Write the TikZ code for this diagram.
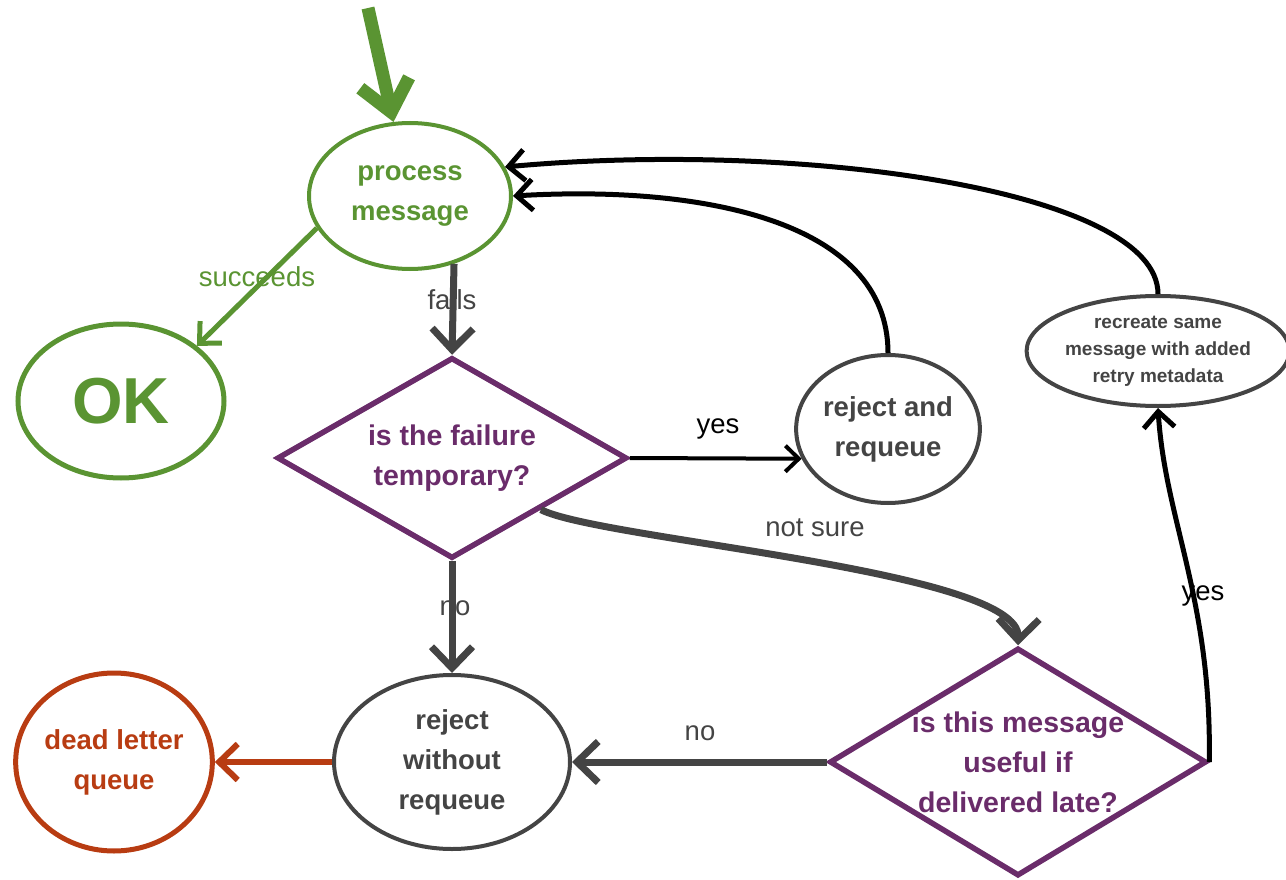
\documentclass[tikz,border=0pt]{standalone}
\usepackage{fontspec}
\setmainfont{Liberation Sans}
\usetikzlibrary{shapes.geometric,arrows.meta,calc}
\definecolor{cgreen}{HTML}{5A9432}
\definecolor{cpurple}{HTML}{6A2C6A}
\definecolor{cgray}{HTML}{444444}
\definecolor{cred}{HTML}{B83C12}
\begin{document}
\begin{tikzpicture}[x=1pt,y=-1pt,
  ell/.style={ellipse, draw=cgray, text=cgray, line width=4pt, inner sep=0pt, align=center,
              font=\bfseries\fontsize{27.5}{40}\selectfont},
  dia/.style={diamond, draw=cpurple, text=cpurple, line width=5.5pt, inner sep=-8pt, align=center,
              font=\bfseries\fontsize{28.5}{40}\selectfont},
  arr/.style={-{Straight Barb[length=3pt 2.6,width=6pt 5]}},
  lbl/.style={text=cgray, font=\fontsize{27.5}{30}\selectfont, inner sep=0pt}
]
\useasboundingbox (0,0) rectangle (1286,880);

% nodes
\node[ell, draw=cgreen, text=cgreen, minimum width=202pt, minimum height=146pt] (pm) at (410,196) {process\\message};
\node[ell, draw=cgreen, text=cgreen, line width=5pt, minimum width=206pt, minimum height=154pt,
      font=\bfseries\fontsize{65}{70}\selectfont] (ok) at (121,401) {OK};
\node[dia, aspect=1.74, minimum width=350pt, minimum height=201pt] (d1) at (452,458) {is the failure\\temporary?};
\node[ell, minimum width=176pt, minimum height=148pt] (rr) at (888,429) {reject and\\requeue};
\node[ell, minimum width=252pt, minimum height=110pt, font=\bfseries\fontsize{19}{27}\selectfont] (re) at (1158,351)
  {recreate same\\message with added\\retry metadata};
\node[dia, aspect=1.65, minimum width=377pt, minimum height=228pt] (d2) at (1018,762) {is this message\\useful if\\delivered late?};
\node[ell, minimum width=236pt, minimum height=174pt] (rw) at (452,762) {reject\\without\\requeue};
\node[ell, draw=cred, text=cred, line width=5pt, minimum width=194pt, minimum height=178pt] (dlq) at (114,762) {dead letter\\queue};

% labels
\node[lbl, text=cgreen] (lsucc) at (257,277) {succeeds};
\node[lbl] (lfails) at (452,300) {fails};
\node[lbl, text=black] (lyes1) at (718,429) {yes};
\node[lbl] (lnotsure) at (815,528) {not sure};
\node[lbl] (lno1) at (455,608) {no};
\node[lbl] (lno2) at (700,733) {no};
\node[lbl, text=black] (lyes2) at (1203,596) {yes};

% connectors
\coordinate (start) at (368,8);
\draw[cgreen, line width=13pt, -{Straight Barb[length=30pt,width=50pt]}] (start) -- (pm);
\draw[cgreen, line width=5pt, arr] (pm.199) -- (ok.36);
\draw[cgray, line width=7pt, arr] (pm.-57) -- (d1.north);
\draw[black, line width=4pt, arr] (d1.east) -- (rr.199);
\draw[black, line width=5pt, arr] (rr.north) .. controls (888,220) and (700,185) .. (pm.east);
\draw[black, line width=5pt, arr] (re.north) .. controls (1158,190) and (800,140) .. (pm.17);
\draw[cgray, line width=7pt, arr] ($(d1.south)!0.5!(d1.east)$) .. controls (600,540) and (1020,570) .. (d2.north);
\draw[cgray, line width=7pt, arr] (d1.south) -- (rw.north);
\draw[cgray, line width=7pt, arr] (d2.west) -- (rw.east);
\draw[black, line width=5pt, arr] (d2.east) .. controls (1212,600) and (1165,520) .. (re.south);
\draw[cred, line width=6pt, arr] (rw.west) -- (dlq.east);
\end{tikzpicture}
\end{document}
